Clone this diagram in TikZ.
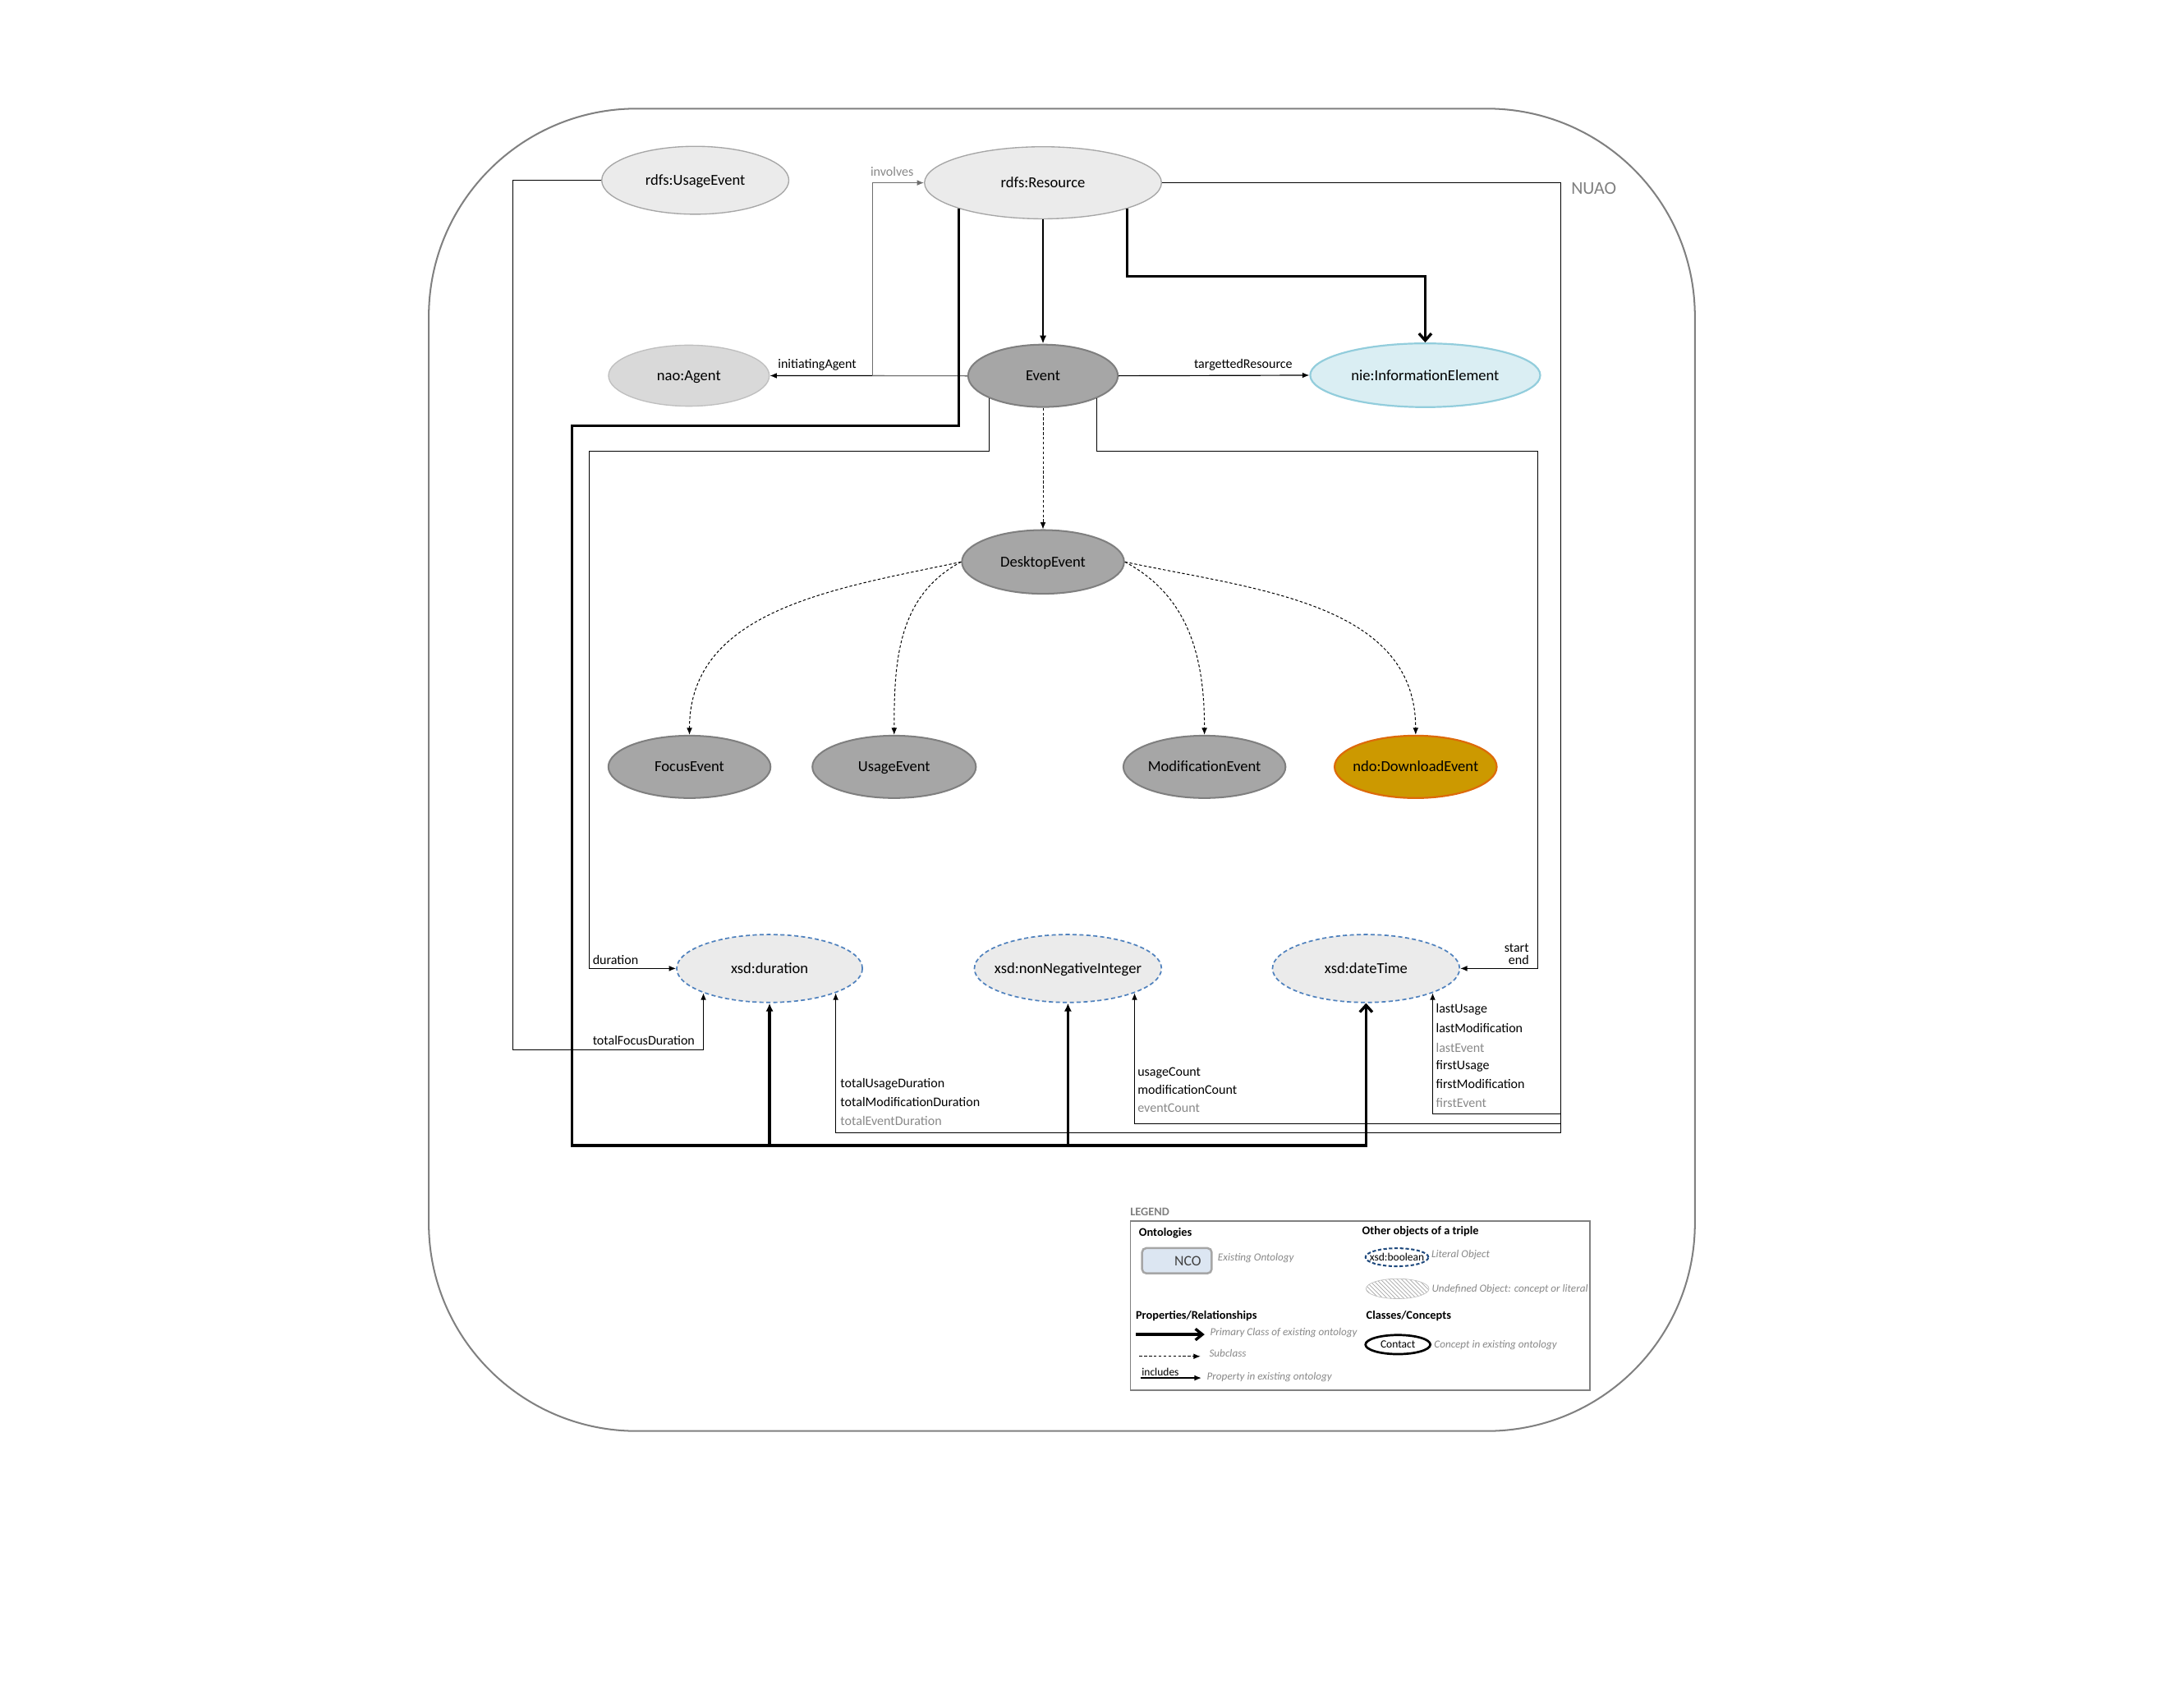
\documentclass[tikz,border=0pt]{standalone}
\usepackage{fontspec}
\setmainfont{Carlito}
\usetikzlibrary{shapes.geometric,arrows.meta,patterns}

\definecolor{clsfill}{HTML}{A6A6A6}
\definecolor{clsline}{HTML}{7F7F7F}
\definecolor{rdffill}{HTML}{EBEBEB}
\definecolor{rdfline}{HTML}{A6A6A6}
\definecolor{naofill}{HTML}{D9D9D9}
\definecolor{naoline}{HTML}{BFBFBF}
\definecolor{niefill}{HTML}{DAEEF3}
\definecolor{nieline}{HTML}{92CDDC}
\definecolor{ndofill}{HTML}{CC9900}
\definecolor{ndoline}{HTML}{DD6A0A}
\definecolor{litline}{HTML}{4F81BD}
\definecolor{frameline}{HTML}{808080}
\definecolor{ncofill}{HTML}{DCE6F2}
\definecolor{boolline}{HTML}{1F497D}
\definecolor{softtext}{HTML}{888888}
\definecolor{involine}{HTML}{6E6E6E}

\newcommand\clsfont{\fontsize{11}{13}\selectfont}
\newcommand\propfont{\fontsize{9.5}{11}\selectfont}
\newcommand\legfont{\fontsize{7.8}{9}\selectfont\itshape}
\newcommand\headfont{\fontsize{8.5}{10}\selectfont\bfseries}

\begin{document}
\begin{tikzpicture}[x=1pt,y=1pt,
  every node/.style={inner sep=0pt},
  cls/.style={ellipse,draw=clsline,fill=clsfill,line width=1.2pt,inner xsep=-8pt,inner ysep=0pt,
    minimum width=117pt,minimum height=45pt,text height=7.2pt,text depth=0pt,font=\clsfont},
  rdf/.style={cls,draw=rdfline,fill=rdffill,line width=0.8pt},
  lit/.style={cls,draw=litline,fill=rdffill,line width=1pt,dash pattern=on 3pt off 2pt,
    minimum width=135pt,minimum height=49pt},
  lbl/.style={font=\propfont,text height=6.5pt,text depth=0pt},
  soft/.style={lbl,text=softtext},
  prop/.style={line width=0.7pt,-{Latex[length=5pt,width=4pt]}},
  sub/.style={line width=0.6pt,dash pattern=on 2pt off 1.5pt,-{Latex[length=5pt,width=4pt]}},
  primary/.style={line width=2pt,-{Latex[length=6pt,width=5.5pt]}},
  barb/.style={primary,-{Straight Barb[length=5pt,width=9pt]}},
  leg/.style={font=\legfont,text=softtext,anchor=west},
  head/.style={font=\headfont,anchor=west}]

  \useasboundingbox (0,0) rectangle (1568,-1232);
  \draw[draw=frameline,line width=1.2pt,rounded corners=150pt] (309.4,-78.4) rectangle (1223,-1032.7);
  \node[anchor=west,font=\fontsize{13}{15}\selectfont,text=frameline] (nuao) at (1133.6,-135.7) {NUAO};

  \node[rdf,minimum width=135pt,minimum height=49pt] (ue) at (501.7,-130.1) {rdfs:UsageEvent};
  \node[rdf,minimum width=171pt,minimum height=52pt] (res) at (752.6,-131.9) {rdfs:Resource};
  \node[rdf,draw=naoline,fill=naofill,minimum width=116pt,minimum height=44pt] (ag) at (497.1,-271.1) {nao:Agent};
  \node[cls,minimum width=108pt] (ev) at (752.6,-271.2) {Event};
  \node[cls,draw=nieline,fill=niefill,line width=1.3pt,minimum width=166pt,minimum height=46pt] (nie) at (1028.4,-270.8) {nie:InformationElement};
  \node[cls,minimum height=46pt] (de) at (752.6,-405.5) {DesktopEvent};
  \node[cls] (fe) at (497.5,-553.4) {FocusEvent};
  \node[cls,minimum width=118pt] (use) at (645.2,-553.4) {UsageEvent};
  \node[cls] (me) at (869.1,-553.4) {ModificationEvent};
  \node[cls,draw=ndoline,fill=ndofill,line width=1.3pt] (dl) at (1021.5,-553.4) {ndo:DownloadEvent};
  \node[lit,minimum width=134pt] (dur) at (555.3,-698.9) {xsd:duration};
  \node[lit] (nni) at (770.6,-698.9) {xsd:nonNegativeInteger};
  \node[lit] (dt) at (985.7,-698.9) {xsd:dateTime};

  \coordinate (fdBend) at (370,-757.5);
  \coordinate (invBend) at (629.9,-200);
  \coordinate (nieBend) at (900,-199.5);
  \coordinate (busTop) at (412.6,-307.2);
  \coordinate (busL) at (412.6,-826.7);
  \coordinate (durBend) at (425.4,-325.6);
  \coordinate (dtBend) at (1109.7,-325.6);
  \coordinate (rbusA) at (1126.3,-817.5);
  \coordinate (rbusB) at (1126.3,-810.8);
  \coordinate (rbusC) at (1126.3,-804);

  \draw[prop] (ue.west) -| (fdBend) -| (dur.south west);
  \draw[prop] (ev.west) -- (ag.east);
  \draw[prop,line width=0.6pt,draw=involine] (ev.west) -| (invBend) |- (res.west);
  \draw[prop] (ev.east) -- (nie.west);
  \draw[line width=1.4pt,-{Latex[length=6pt,width=5pt]}] (res.south) -- (ev.north);
  \draw[barb] (res.south east) |- (nieBend) -| (nie.north);
  \draw[barb] (res.south west) |- (busTop) -- (busL) -| (dt.south);
  \draw[primary] (dur.south |- busL) -- (dur.south);
  \draw[primary] (nni.south |- busL) -- (nni.south);
  \draw[prop] (res.east) -| (rbusA) -| (dur.south east);
  \draw[prop] (rbusB) -| (nni.south east);
  \draw[prop] (rbusC) -| (dt.south east);
  \draw[prop] (ev.south west) |- (durBend) |- (dur.west);
  \draw[prop] (ev.south east) |- (dtBend) |- (dt.east);

  \draw[sub] (ev.south) -- (de.north);
  \draw[sub] (de.west) to[out=192,in=90] (fe.north);
  \draw[sub] (de.west) to[out=208,in=90] (use.north);
  \draw[sub] (de.east) to[out=-28,in=90] (me.north);
  \draw[sub] (de.east) to[out=-12,in=90] (dl.north);

  \node[soft] (lInv) at (643.7,-123.7) {involves};
  \node[lbl] (lAgent) at (589.7,-262.3) {initiatingAgent};
  \node[lbl,anchor=east] (lTarget) at (932.7,-262.3) {targettedResource};
  \node[lbl,anchor=west] (lDur) at (427.5,-693) {duration};
  \node[lbl,anchor=west] (lTfd) at (427.5,-750.6) {totalFocusDuration};
  \node[lbl,anchor=east] (lStart) at (1103.4,-683.9) {start};
  \node[lbl,anchor=east] (lEnd) at (1103.4,-693) {end};
  \node[lbl,anchor=west] (lTud) at (606.3,-781.8) {totalUsageDuration};
  \node[lbl,anchor=west] (lTmd) at (606.3,-795.4) {totalModificationDuration};
  \node[soft,anchor=west] (lTed) at (606.3,-808.7) {totalEventDuration};
  \node[lbl,anchor=west] (lUc) at (820.7,-773.1) {usageCount};
  \node[lbl,anchor=west] (lMc) at (820.7,-786.2) {modificationCount};
  \node[soft,anchor=west] (lEc) at (820.7,-799.6) {eventCount};
  \node[lbl,anchor=west] (lLu) at (1036,-727.9) {lastUsage};
  \node[lbl,anchor=west] (lLm) at (1036,-742.1) {lastModification};
  \node[soft,anchor=west] (lLe) at (1036,-756) {lastEvent};
  \node[lbl,anchor=west] (lFu) at (1036,-768.4) {firstUsage};
  \node[lbl,anchor=west] (lFm) at (1036,-782.2) {firstModification};
  \node[soft,anchor=west] (lFe) at (1036,-796) {firstEvent};

  \node[head,text=frameline] (legTitle) at (815.4,-874.7) {LEGEND};
  \node[draw=frameline,line width=1pt,anchor=north west,minimum width=331.5pt,minimum height=122.3pt] (legBox) at (815.2,-880.6) {};
  \node[head] (legOnt) at (821.7,-889.9) {Ontologies};
  \node[draw=rdfline,fill=ncofill,line width=1.5pt,rounded corners=3pt,minimum height=18.2pt,text width=35pt,
    inner xsep=7.6pt,align=right,font=\fontsize{10.5}{12}\selectfont,text=darkgray] (legNco) at (849.2,-909.8) {NCO};
  \node[leg] (legNcoTxt) at (878.6,-907.7) {Existing Ontology};
  \node[head] (legOther) at (982.7,-888.9) {Other objects of a triple};
  \node[ellipse,draw=boolline,line width=1.2pt,dash pattern=on 2.5pt off 1.5pt,minimum width=45.4pt,minimum height=13pt,
    inner xsep=-6pt,font=\fontsize{8}{9}\selectfont] (legBool) at (1008,-907.3) {xsd:boolean};
  \node[leg] (legBoolTxt) at (1032.7,-905.7) {Literal Object};
  \node[ellipse,draw=naoline,pattern=north west lines,pattern color=gray!70,minimum width=45.4pt,minimum height=14.4pt] (legUndef) at (1008.4,-930) {};
  \node[leg] (legUndefTxt) at (1033,-930.4) {Undefined Object: concept or literal};
  \node[head] (legProp) at (819.4,-949.7) {Properties/Relationships};
  \node[head] (legCls) at (985.7,-949.7) {Classes/Concepts};
  \coordinate (legPrimA) at (819.8,-963);
  \coordinate (legPrimB) at (869.2,-963);
  \draw[line width=2pt,-{Straight Barb[length=5pt,width=8pt]}] (legPrimA) -- (legPrimB);
  \node[leg] (legPrimTxt) at (873,-962) {Primary Class of existing ontology};
  \coordinate (legSubA) at (822.1,-978.8);
  \coordinate (legSubB) at (866.2,-978.8);
  \draw[sub] (legSubA) -- (legSubB);
  \node[leg] (legSubTxt) at (872.4,-976.5) {Subclass};
  \node[anchor=west,font=\fontsize{8}{9}\selectfont] (legInc) at (823.7,-990.2) {includes};
  \coordinate (legPropA) at (822.9,-994.4);
  \coordinate (legPropB) at (866.9,-994.4);
  \draw[prop] (legPropA) -- (legPropB);
  \node[leg] (legPropTxt) at (870.7,-994) {Property in existing ontology};
  \node[ellipse,draw,line width=1.6pt,minimum width=46.8pt,minimum height=13.8pt,inner xsep=-6pt,
    font=\fontsize{8}{9}\selectfont] (legContact) at (1008.7,-970.3) {Contact};
  \node[leg] (legContactTxt) at (1034.7,-970.9) {Concept in existing ontology};
\end{tikzpicture}
\end{document}
